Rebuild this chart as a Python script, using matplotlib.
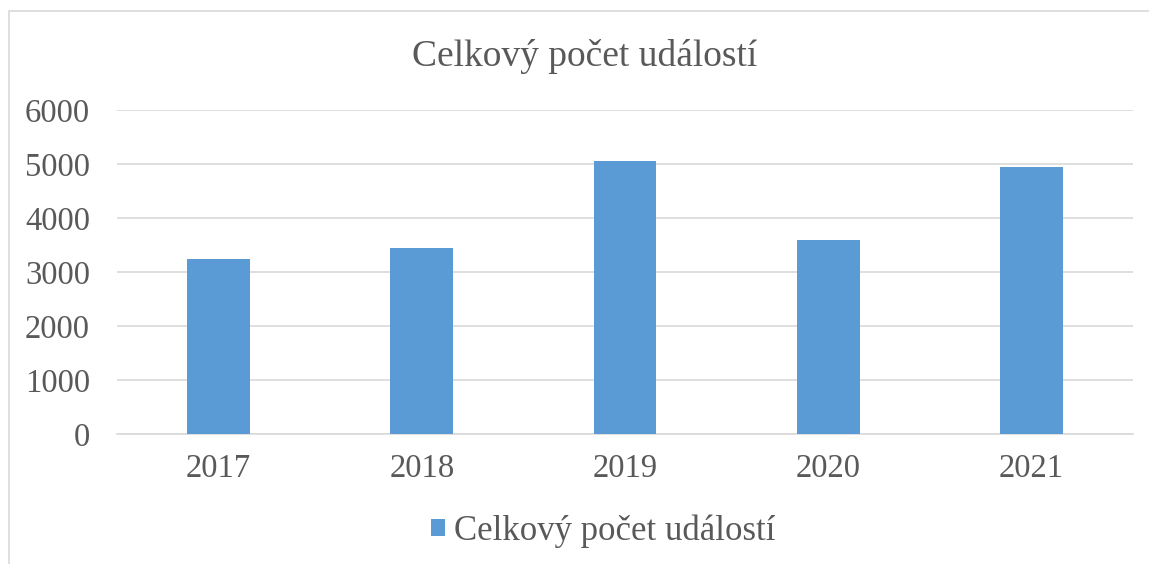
import matplotlib.pyplot as plt
import matplotlib.patches as mpatches

years = ['2017', '2018', '2019', '2020', '2021']
counts = [3240, 3440, 5050, 3600, 4940]
yticks = [0, 1000, 2000, 3000, 4000, 5000, 6000]

plt.rcParams['font.family'] = ['Liberation Serif', 'DejaVu Serif']
gray = '#595959'

fig = plt.figure(figsize=(11.49, 5.64), dpi=100)
ax = fig.add_axes([117 / 1149, 1 - 434 / 564, (1133 - 117) / 1149, (434 - 110) / 564])

# outer chart frame
fig.patches.append(mpatches.Rectangle((9 / 1149, -0.01), 1.0, 1 - 11 / 564 + 0.01,
                                      transform=fig.transFigure, fill=False,
                                      edgecolor='#d9d9d9', linewidth=1.2))

x = range(len(years))
ax.bar(x, counts, width=0.31, color='#5b9bd5', zorder=3, label='Celkový počet událostí')
ax.set_xlim(-0.5, len(years) - 0.5)
ax.set_ylim(0, 6000)
ax.set_yticks(yticks)
ax.set_xticks(list(x))
ax.set_xticklabels(years)
ax.grid(axis='y', color='#d9d9d9', linewidth=1.2, zorder=0)
for s in ['top', 'right', 'left']:
    ax.spines[s].set_visible(False)
ax.spines['bottom'].set_color('#d9d9d9')
ax.spines['bottom'].set_linewidth(1.2)
ax.tick_params(length=0, labelsize=23.5, colors=gray)
ax.tick_params(axis='y', pad=19.5)
ax.tick_params(axis='x', pad=14)

fig.text(0.5 + 10 / 1149, 1 - 57 / 564, 'Celkový počet událostí', ha='center', va='center',
         fontsize=27, color=gray)

fig.legend(loc='center', bbox_to_anchor=(0.525, 1 - 531 / 564), frameon=False,
           fontsize=25, labelcolor=gray, handlelength=0.4, handleheight=0.4, handletextpad=0.26)

fig.savefig('out.png', dpi=100)
